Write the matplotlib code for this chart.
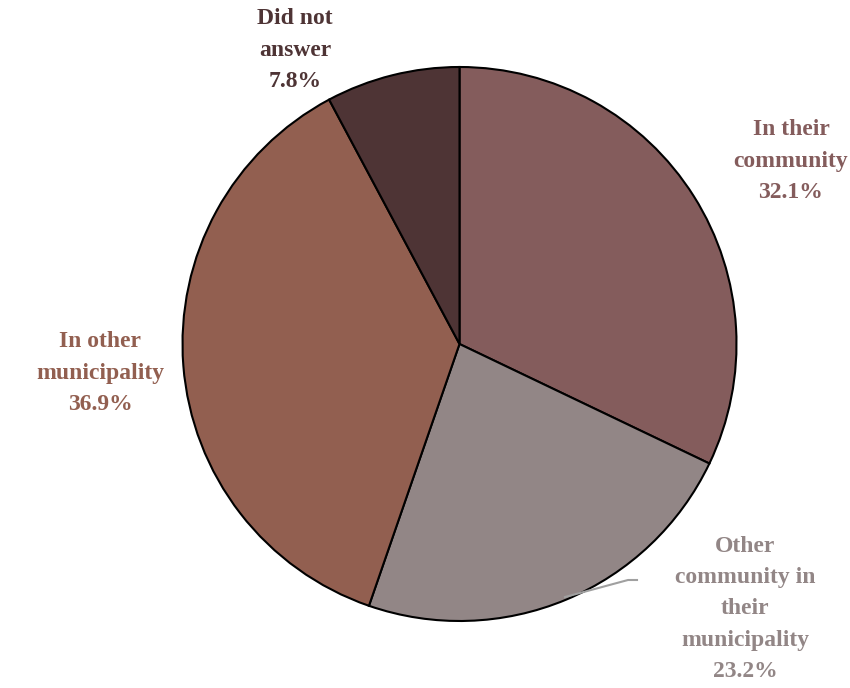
import matplotlib.pyplot as plt

labels = ["In their\ncommunity", "Other\ncommunity in\ntheir\nmunicipality",
          "In other\nmunicipality", "Did not\nanswer"]
shares = [32.1, 23.2, 36.9, 7.8]
colors = ["#845c5c", "#928686", "#925f50", "#4e3435"]

# label centres in pixel coords (y measured from the top)
label_pos = [(791, 161), (745, 609), (100, 373), (295, 50)]

fig = plt.figure(figsize=(8.5, 6.88), dpi=100)
ax = fig.add_axes([0, 0, 1, 1])

cx, cy, r = 459.5, 688 - 344, 277
ax.pie(shares, colors=colors, startangle=90, counterclock=False,
       center=(cx, cy), radius=r, frame=True,
       wedgeprops=dict(edgecolor="black", linewidth=1.5))
ax.set_xlim(0, 850)
ax.set_ylim(0, 688)
ax.set_aspect("equal")
ax.axis("off")

for lab, val, col, (x, y) in zip(labels, shares, colors, label_pos):
    ax.text(x, 688 - y, f"{lab}\n{val}%", ha="center", va="center",
            color=col, fontsize=17, fontweight="bold",
            family="Liberation Serif", linespacing=1.65)

# leader line for the label below the pie
ax.plot([565, 628, 637], [688 - 597, 688 - 580, 688 - 580],
        color="#a0a0a0", lw=1.5)

fig.savefig("out.png", dpi=100)
